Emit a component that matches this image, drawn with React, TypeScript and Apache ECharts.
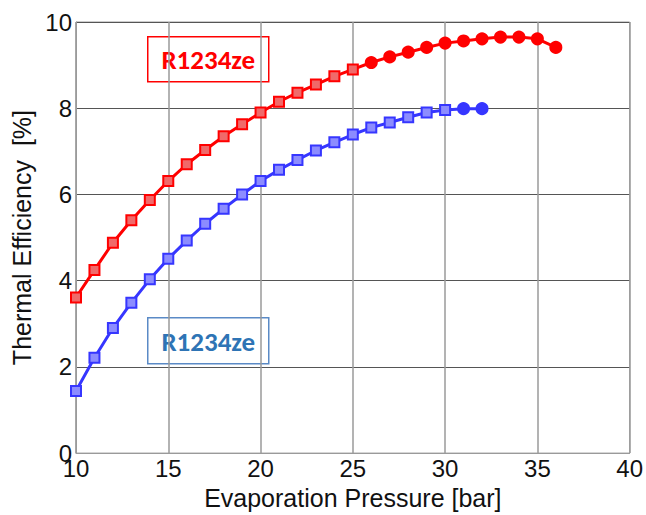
import React, { useEffect, useRef } from "react";
import * as echarts from "echarts";

const pressureRed = [10, 11, 12, 13, 14, 15, 16, 17, 18, 19, 20, 21, 22, 23, 24, 25, 26, 27, 28, 29, 30, 31, 32, 33, 34, 35, 36];
const efficiencyRed = [3.61, 4.25, 4.88, 5.4, 5.87, 6.31, 6.7, 7.03, 7.35, 7.63, 7.9, 8.15, 8.36, 8.55, 8.74, 8.9, 9.06, 9.19, 9.3, 9.41, 9.51, 9.56, 9.61, 9.65, 9.65, 9.61, 9.41];
const pressureBlue = [10, 11, 12, 13, 14, 15, 16, 17, 18, 19, 20, 21, 22, 23, 24, 25, 26, 27, 28, 29, 30, 31, 32];
const efficiencyBlue = [1.44, 2.21, 2.9, 3.49, 4.03, 4.51, 4.93, 5.32, 5.67, 6.0, 6.31, 6.57, 6.8, 7.02, 7.21, 7.39, 7.55, 7.67, 7.79, 7.9, 7.96, 7.99, 7.99];

const xTitle = "Evaporation Pressure [bar]";
const yTitle = "Thermal Efficiency  [%]";
const redLabel = "R1234ze";
const blueLabel = "R1234ze";

const FONT = "'Liberation Sans', Arial, sans-serif";

export default function App() {
  const ref = useRef<HTMLDivElement>(null);
  useEffect(() => {
    if (!ref.current) return;
    const chart = echarts.init(ref.current, null, { renderer: "svg" });
    const mk = (xs: number[], ys: number[], solidFrom: number, line: string, fill: string) =>
      xs.map((x, i) => {
        const solid = x >= solidFrom;
        return {
          value: [x, ys[i]],
          symbol: solid ? "circle" : "rect",
          symbolSize: solid ? 11 : 10,
          itemStyle: { color: solid ? line : fill, borderColor: line, borderWidth: 2 },
        };
      });
    chart.setOption({
      animation: false,
      backgroundColor: "#ffffff",
      grid: { left: 76, right: 15, top: 22, bottom: 58, show: true, borderColor: "#9a9a9a", borderWidth: 1 },
      xAxis: {
        type: "value",
        min: 10,
        max: 40,
        interval: 5,
        name: xTitle,
        nameLocation: "middle",
        nameGap: 31,
        nameTextStyle: { fontFamily: FONT, fontSize: 25, color: "#111" },
        axisLine: { show: true, lineStyle: { color: "#9a9a9a" } },
        axisTick: { show: false },
        axisLabel: { fontFamily: FONT, fontSize: 24, color: "#111", margin: 3 },
        splitLine: { show: true, lineStyle: { color: "#9a9a9a", width: 1.5 } },
      },
      yAxis: {
        type: "value",
        min: 0,
        max: 10,
        interval: 2,
        name: yTitle,
        nameLocation: "middle",
        nameGap: 42,
        nameTextStyle: { fontFamily: FONT, fontSize: 25, color: "#111" },
        axisLine: { show: true, lineStyle: { color: "#9a9a9a" } },
        axisTick: { show: false },
        axisLabel: { fontFamily: FONT, fontSize: 24, color: "#111", margin: 4 },
        splitLine: { show: true, lineStyle: { color: "#555", width: 1 } },
      },
      series: [
        {
          type: "line",
          data: mk(pressureRed, efficiencyRed, 26, "#ff0000", "#f06a6a"),
          lineStyle: { color: "#ff0000", width: 3 },
          itemStyle: { color: "#ff0000" },
          z: 3,
        },
        {
          type: "line",
          data: mk(pressureBlue, efficiencyBlue, 31, "#3636ff", "#8c8cff"),
          lineStyle: { color: "#3636ff", width: 3 },
          itemStyle: { color: "#3636ff" },
          z: 3,
        },
      ],
      graphic: [
        {
          type: "group",
          left: 147,
          top: 36,
          children: [
            { type: "rect", shape: { x: 0, y: 0, width: 121, height: 45 }, style: { fill: "#fff", stroke: "#ff0000", lineWidth: 1.5 } },
            { type: "text", x: 60.5, y: 23, style: { text: redLabel, fill: "#ff0000", font: "bold 27px Calibri, 'Open Sans', sans-serif", align: "center", verticalAlign: "middle" } },
          ],
        },
        {
          type: "group",
          left: 147,
          top: 317,
          children: [
            { type: "rect", shape: { x: 0, y: 0, width: 121, height: 46 }, style: { fill: "#fff", stroke: "#5a8ac6", lineWidth: 1.5 } },
            { type: "text", x: 60.5, y: 24, style: { text: blueLabel, fill: "#2e74b5", font: "bold 27px Calibri, 'Open Sans', sans-serif", align: "center", verticalAlign: "middle" } },
          ],
        },
      ],
    });
    return () => chart.dispose();
  }, []);
  return <div ref={ref} style={{ position: "fixed", left: 0, top: 0, width: 646, height: 515 }} />;
}
